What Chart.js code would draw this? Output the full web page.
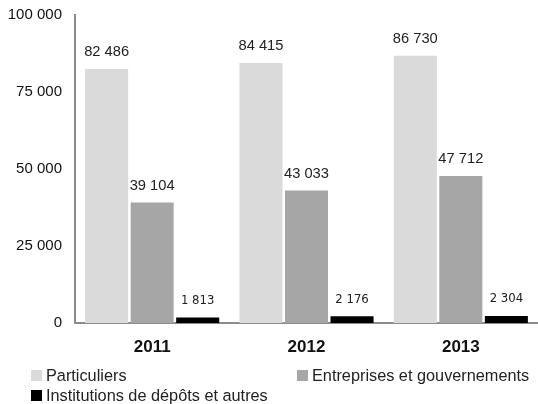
<!DOCTYPE html>
<html>
<head>
<meta charset="utf-8">
<script src="https://cdn.jsdelivr.net/npm/chart.js@4/dist/chart.umd.min.js"></script>
<style>
  html, body { margin: 0; padding: 0; background: #fff; }
  #wrap { position: relative; width: 538px; height: 404px; }
  #chart { position: absolute; left: 0; top: 0; }
  .leg { position: absolute; font: 16.3px/20px "Liberation Sans", Arial, sans-serif; color: #222; white-space: nowrap; }
  .leg i { display: inline-block; width: 11px; height: 11px; margin-right: 4px; vertical-align: 0px; }
</style>
</head>
<body>
<div id="wrap">
  <canvas id="chart" width="538" height="404"></canvas>
  <div id="legend"></div>
</div>
<script>
  const years = ['2011', '2012', '2013'];
  const particuliers = [82486, 84415, 86730];
  const entreprises = [39104, 43033, 47712];
  const institutions = [1813, 2176, 2304];
  const seriesNames = ['Particuliers', 'Entreprises et gouvernements', 'Institutions de dépôts et autres'];
  const seriesColors = ['#dadada', '#a6a6a6', '#000000'];
  const yTicks = [0, 25000, 50000, 75000, 100000];

  // nombres avec espace comme séparateur de milliers
  function fmt(v) {
    return String(v).replace(/\B(?=(\d{3})+(?!\d))/g, ' ');
  }

  // étiquettes de valeur au-dessus des barres
  const valueLabels = {
    id: 'valueLabels',
    afterDatasetsDraw(chart) {
      const ctx = chart.ctx;
      ctx.save();
      ctx.textAlign = 'center';
      ctx.textBaseline = 'middle';
      ctx.fillStyle = '#222';
      chart.data.datasets.forEach((ds, i) => {
        ctx.font = i === 2 ? '13px "Liberation Sans Narrow", "DejaVu Sans Condensed", sans-serif'
                           : '14.7px "Liberation Sans", Arial, sans-serif';
        chart.getDatasetMeta(i).data.forEach((bar, j) => {
          ctx.fillText(fmt(ds.data[j]), bar.x, bar.y - 17);
        });
      });
      ctx.restore();
    }
  };

  const datasets = [particuliers, entreprises, institutions].map((vals, i) => ({
    label: seriesNames[i],
    data: vals,
    backgroundColor: seriesColors[i],
    borderWidth: 0,
    barPercentage: 0.945,
    categoryPercentage: 0.885
  }));

  new Chart(document.getElementById('chart'), {
    type: 'bar',
    data: { labels: years, datasets: datasets },
    options: {
      responsive: false,
      animation: false,
      layout: { padding: { top: 15, right: 0, bottom: 32.6, left: 0 } },
      plugins: { legend: { display: false }, tooltip: { enabled: false } },
      scales: {
        x: {
          grid: { display: false, drawTicks: false },
          border: { color: '#8c8c8c', width: 2 },
          ticks: { color: '#111', padding: 14, font: { family: '"Liberation Sans", Arial', size: 17, weight: 'bold' } }
        },
        y: {
          min: 0,
          max: 100000,
          afterFit(axis) {
            axis.width = 75;
            axis.paddingTop = 0;
            axis.paddingBottom = 0;
          },
          afterBuildTicks(axis) { axis.ticks = yTicks.map(v => ({ value: v })); },
          grid: { display: false, drawTicks: false },
          border: { color: '#8c8c8c', width: 2 },
          ticks: {
            color: '#111',
            padding: 13,
            font: { family: '"Liberation Sans", Arial', size: 15 },
            callback: v => fmt(v)
          }
        }
      }
    },
    plugins: [valueLabels]
  });

  // légende HTML
  const legendPos = [[31, 365], [297, 365], [31, 385]];
  document.getElementById('legend').innerHTML = seriesNames.map((n, i) =>
    '<div class="leg" style="left:' + legendPos[i][0] + 'px;top:' + legendPos[i][1] + 'px">' +
    '<i style="background:' + seriesColors[i] + '"></i>' + n + '</div>'
  ).join('');
</script>
</body>
</html>
